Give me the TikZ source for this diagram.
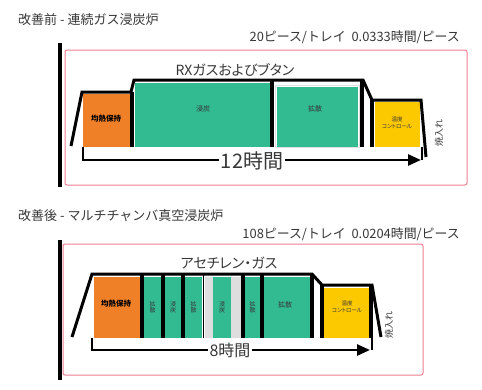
\documentclass[tikz,border=0pt]{standalone}
\usepackage{fontspec}
\newfontfamily\jp{Noto Sans CJK JP}[RawFeature=+palt]
\newfontfamily\jpw{Noto Sans CJK JP}
\setmainfont{Noto Sans CJK JP}[RawFeature=+palt]
\usetikzlibrary{arrows.meta}
\definecolor{ora}{RGB}{240,128,40}
\definecolor{grn}{RGB}{50,187,145}
\definecolor{yel}{RGB}{252,200,0}
\definecolor{pnk}{RGB}{240,125,145}
\definecolor{txt}{RGB}{55,55,55}
\definecolor{lgry}{RGB}{222,222,222}
\tikzset{
  outl/.style={line width=3pt, line join=miter, black},
  wall/.style={line width=3.2pt, black},
  thinwall/.style={line width=1.5pt, black},
  frame/.style={draw=pnk, line width=1pt, rounded corners=2pt},
  bar/.style={line width=3.5pt, black},
  timearrow/.style={line width=2.6pt, black, -{Triangle[length=13pt,width=11pt]}},
  tick/.style={line width=1.5pt, black},
  title/.style={font=\jpw\fontsize{13}{15}\selectfont, text=txt, anchor=west, inner sep=0pt},
  rate/.style={font=\jpw\fontsize{12.9}{14}\selectfont, text=txt, anchor=east, inner sep=0pt},
  gas/.style={font=\jp\fontsize{14}{16}\selectfont, text=txt, inner sep=0pt},
  hours/.style={font=\jp\fontsize{20}{22}\selectfont, text=txt, fill=white, inner sep=2pt},
  lbl/.style={font=\jp\fontsize{7}{8}\selectfont, text=txt, inner sep=0pt, align=center},
  hold/.style={font=\jp\bfseries\fontsize{7.5}{8}\selectfont, text=black, inner sep=0pt},
  temp/.style={font=\jp\fontsize{5.5}{7}\selectfont, text=txt, inner sep=0pt, align=center},
  stack/.style={font=\jp\fontsize{6}{6.5}\selectfont, text=txt, inner sep=0pt, align=center},
  quench/.style={font=\jp\fontsize{9}{10}\selectfont, text=txt, inner sep=0pt, rotate=90},
}
\begin{document}
\begin{tikzpicture}[x=1pt,y=-1pt]
\useasboundingbox (0,0) rectangle (482,389);
\fill[white] (0,0) rectangle (482,389);

% ================= upper panel =================
\node[title] (t1) at (18,20) {改善前 - 連続ガス浸炭炉};
\node[rate] (r1) at (460,37) {20ピース/トレイ\ \ 0.0333時間/ピース};
\draw[frame] (65,50) rectangle (467,185);
\draw[bar] (60,43) -- (60,187);
\node[gas] (g1) at (235,70) {RXガスおよびブタン};

% chambers
\fill[ora] (83,94) rectangle (130,147);
\fill[grn] (135,83) rectangle (270,147);
\fill[grn] (277,87) rectangle (358,147);
\draw[lgry, line width=0.6pt] (275.5,85.5) rectangle (359.5,147);
\fill[yel] (375,102) rectangle (420,147);

\draw[outl] (71,146) -- (82,92) -- (131,92) -- (134,80) -- (363,80) -- (372,100) -- (421,100) -- (426,157);
\draw[wall] (132,92) -- (132,147);
\draw[wall] (272,80) -- (272,147);
\draw[wall] (362,80) -- (362,147);
\draw[wall] (372,99) -- (372,147);

\node[hold] (h1) at (106,119) {均熱保持};
\node[lbl] (c1) at (203,109) {浸炭};
\node[lbl] (d1) at (315,109) {拡散};
\node[temp] (q1) at (397,123) {温度\\コントロール};
\node[quench] (z1) at (439,133) {焼入れ};

\coordinate (a1s) at (83,147);
\coordinate (a1e) at (421,160);
\coordinate (a1t) at (422,147);
\draw[timearrow] (a1s) |- (a1e);
\draw[tick] (a1t) -- (a1t |- a1e);
\node[hours] (m1) at (252,161) {12時間};

% ================= lower panel =================
\node[title] (t2) at (18,216) {改善後 - マルチチャンバ真空浸炭炉};
\node[rate] (r2) at (460,234) {108ピース/トレイ\ \ 0.0204時間/ピース};
\draw[frame] (63,244) rectangle (423,375);
\draw[bar] (60,240) -- (60,380);
\node[gas] (g2) at (229,263) {アセチレン・ガス};

\fill[ora] (94,277) rectangle (141,338);
\fill[grn] (144,277) rectangle (161,338);
\fill[grn] (165,277) rectangle (181,338);
\fill[grn] (185,277) rectangle (202,338);
\fill[lgry] (205,277) rectangle (241,338);
\fill[grn] (213,277) rectangle (231,338);
\fill[grn] (245,277) rectangle (260,338);
\fill[grn] (264,277) rectangle (310,338);
\fill[yel] (324,288) rectangle (370,338);

\draw[outl] (72,337) -- (92,274) -- (312,274) -- (322,285) -- (372,285) -- (381,337);
\draw[wall] (142,274) -- (142,338);
\draw[wall] (163,274) -- (163,338);
\draw[wall] (183,274) -- (183,338);
\draw[thinwall] (203.5,274) -- (203.5,338);
\draw[wall] (243,274) -- (243,338);
\draw[wall] (262,274) -- (262,338);
\draw[wall] (312,274) -- (312,338);
\draw[wall] (322,284) -- (322,338);
\draw[wall] (371,284) -- (371,338);

\node[hold] (h2) at (116,304) {均熱保持};
\node[stack] (s1) at (152.5,307) {拡\\散};
\node[stack] (s2) at (173,307) {浸\\炭};
\node[stack] (s3) at (193.5,307) {拡\\散};
\node[stack] (s4) at (222,307) {浸\\炭};
\node[stack] (s5) at (252.5,307) {拡\\散};
\node[lbl] (d2) at (285,305) {拡散};
\node[temp] (q2) at (347,307) {温度\\コントロール};
\node[quench] (z2) at (389,325) {焼入れ};

\coordinate (a2s) at (92,338);
\coordinate (a2e) at (370,350);
\coordinate (a2t) at (372,338);
\draw[timearrow] (a2s) |- (a2e);
\draw[tick] (a2t) -- (a2t |- a2e);
\node[hours, font=\jp\fontsize{16}{18}\selectfont] (m2) at (230,350) {8時間};
\end{tikzpicture}
\end{document}
